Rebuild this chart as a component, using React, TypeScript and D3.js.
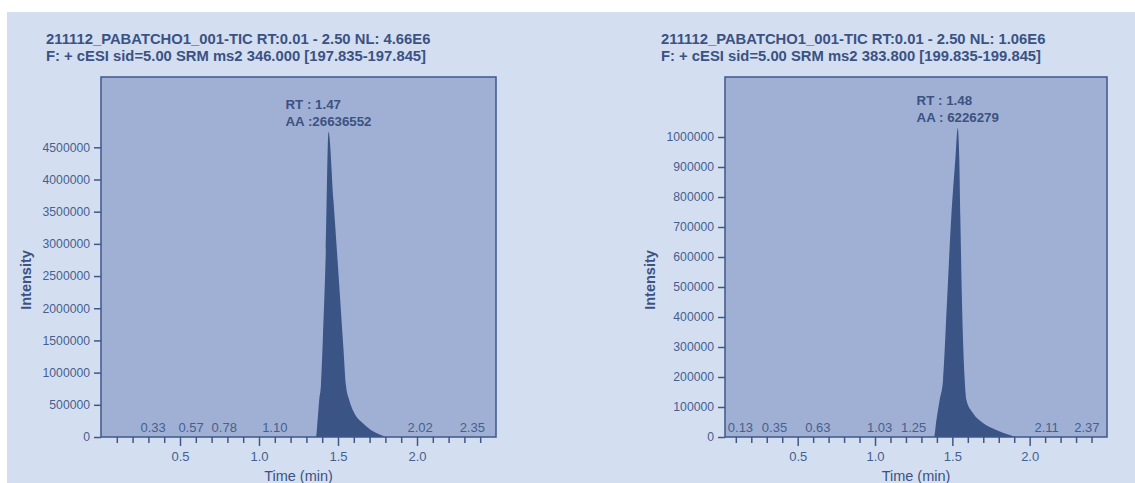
import React from 'react'
import * as d3 from 'd3'

const W = 1135
const H = 483

// titles
const titlesA = [
  '211112_PABATCHO1_001-TIC RT:0.01 - 2.50 NL: 4.66E6',
  'F: + cESI sid=5.00 SRM ms2 346.000 [197.835-197.845]'
]
const titlesB = [
  '211112_PABATCHO1_001-TIC RT:0.01 - 2.50 NL: 1.06E6',
  'F: + cESI sid=5.00 SRM ms2 383.800 [199.835-199.845]'
]

// left trace (time in min, intensity)
const timesA = [0.01, 1.36, 1.371, 1.381, 1.392, 1.404, 1.423, 1.44, 1.471, 1.514, 1.535, 1.55, 1.571, 1.603, 1.656, 1.708, 1.772, 1.804, 2.5]
const intensA = [0, 0, 264000, 575000, 807000, 1510000, 2900000, 4740000, 3680000, 2130000, 1350000, 807000, 575000, 373000, 217000, 109000, 31000, 0, 0]

// right trace
const timesB = [0.01, 1.381, 1.397, 1.418, 1.44, 1.466, 1.492, 1.519, 1.535, 1.545, 1.552, 1.562, 1.58, 1.591, 1.633, 1.698, 1.784, 1.87, 1.913, 2.5]
const intensB = [0, 0, 57000, 123000, 190000, 457000, 723000, 923000, 1030000, 923000, 723000, 457000, 190000, 123000, 80000, 46700, 23300, 6700, 0, 0]

// small peak labels
const labelTimesA = [0.33, 0.57, 0.78, 1.10, 2.02, 2.35]
const labelTimesB = [0.13, 0.35, 0.63, 1.03, 1.25, 2.11, 2.37]

// apex annotations
const annotA = ['RT : 1.47', 'AA :26636552']
const annotB = ['RT : 1.48', 'AA : 6226279']

// axes
const yTicksA = [0, 500000, 1000000, 1500000, 2000000, 2500000, 3000000, 3500000, 4000000, 4500000]
const yTicksB = [0, 100000, 200000, 300000, 400000, 500000, 600000, 700000, 800000, 900000, 1000000]
const yMaxA = 5592000
const yMaxB = 1200000
const xMajor = [0.5, 1.0, 1.5, 2.0]
const xMinor = [0.1, 0.2, 0.3, 0.4, 0.6, 0.7, 0.8, 0.9, 1.1, 1.2, 1.3, 1.4, 1.6, 1.7, 1.8, 1.9, 2.1, 2.2, 2.3, 2.4]

const FONT = '"Liberation Sans", Arial, sans-serif'
const C = {
  panel: '#d3dff1',
  plot: '#a0b0d4',
  trace: '#3a5486',
  stroke: '#3f5889',
  text: '#3b5283',
  tick: '#45608f'
}

const panels = [
  { titles: titlesA, times: timesA, intens: intensA, labels: labelTimesA, annot: annotA, yTicks: yTicksA, yMax: yMaxA, xDomain: [0, 2.5], left: 101, right: 496, titleX: 46 },
  { titles: titlesB, times: timesB, intens: intensB, labels: labelTimesB, annot: annotB, yTicks: yTicksB, yMax: yMaxB, xDomain: [0.03, 2.5], left: 725, right: 1107, titleX: 661 }
]

export default function App() {
  const ref = React.useRef<SVGSVGElement>(null)

  React.useEffect(() => {
    const svg = d3.select(ref.current)
    svg.selectAll('*').remove()
    const top = 77
    const bottom = 437

    svg.append('rect').attr('width', W).attr('height', H).attr('fill', '#fff')
    svg.append('rect').attr('x', 7).attr('y', 12).attr('width', W - 7).attr('height', H - 12).attr('fill', C.panel)

    panels.forEach(p => {
      const g = svg.append('g').attr('font-family', FONT)
      const x = d3.scaleLinear().domain(p.xDomain).range([p.left, p.right])
      const y = d3.scaleLinear().domain([0, p.yMax]).range([bottom, top])

      // title
      p.titles.forEach((t, i) => {
        g.append('text')
          .attr('x', p.titleX)
          .attr('y', 44 + i * 17)
          .attr('font-size', 14.8)
          .attr('font-weight', 'bold')
          .attr('fill', C.text)
          .text(t)
      })

      // plot area
      g.append('rect')
        .attr('x', p.left)
        .attr('y', top)
        .attr('width', p.right - p.left)
        .attr('height', bottom - top)
        .attr('fill', C.plot)

      // trace
      const pts = p.times.map((t, i) => [t, p.intens[i]] as [number, number])
      const area = d3.area<[number, number]>()
        .x(d => x(d[0]))
        .y0(y(0))
        .y1(d => y(d[1]))
        .curve(d3.curveMonotoneX)
      g.append('path').attr('d', area(pts)).attr('fill', C.trace)

      g.append('rect')
        .attr('x', p.left)
        .attr('y', top)
        .attr('width', p.right - p.left)
        .attr('height', bottom - top)
        .attr('fill', 'none')
        .attr('stroke', C.stroke)
        .attr('stroke-width', 1.5)

      // small peak labels
      p.labels.forEach(t => {
        g.append('text')
          .attr('x', x(t))
          .attr('y', bottom - 5)
          .attr('text-anchor', 'middle')
          .attr('font-size', 13)
          .attr('fill', C.tick)
          .text(t.toFixed(2))
      })

      // apex annotation
      const iMax = d3.maxIndex(p.intens)
      const ax = x(p.times[iMax])
      const ay = y(p.intens[iMax])
      const ag = g.append('g')
      p.annot.forEach((t, i) => {
        ag.append('text')
          .attr('x', 0)
          .attr('y', ay - 6 - (p.annot.length - 1 - i) * 17)
          .attr('font-size', 13.3)
          .attr('font-weight', 'bold')
          .attr('fill', C.text)
          .text(t)
      })
      const wMax = d3.max(ag.selectAll<SVGTextElement, unknown>('text').nodes(), n => n.getComputedTextLength()) || 0
      ag.attr('transform', `translate(${ax - wMax / 2},0)`)

      // y axis
      const yAxis = g.append('g')
        .attr('transform', `translate(${p.left},0)`)
        .call(d3.axisLeft(y).tickValues(p.yTicks).tickSize(7).tickPadding(4).tickFormat(d3.format('d')))
      yAxis.select('.domain').remove()
      yAxis.selectAll('line').attr('stroke', C.stroke).attr('stroke-width', 1.5)
      yAxis.selectAll('text').attr('fill', C.tick).attr('font-size', 12.2).attr('font-family', FONT)

      // x axis
      const xMinorAxis = g.append('g')
        .attr('transform', `translate(0,${bottom})`)
        .call(d3.axisBottom(x).tickValues(xMinor).tickSize(6).tickFormat(() => ''))
      xMinorAxis.select('.domain').remove()
      xMinorAxis.selectAll('line').attr('stroke', C.stroke).attr('stroke-width', 1.5)

      const xAxis = g.append('g')
        .attr('transform', `translate(0,${bottom})`)
        .call(d3.axisBottom(x).tickValues(xMajor).tickSize(9).tickPadding(6).tickFormat(d3.format('.1f')))
      xAxis.select('.domain').remove()
      xAxis.selectAll('line').attr('stroke', C.stroke).attr('stroke-width', 1.5)
      xAxis.selectAll('text').attr('fill', C.tick).attr('font-size', 13).attr('font-family', FONT)

      // axis titles
      g.append('text')
        .attr('x', (p.left + p.right) / 2)
        .attr('y', 481)
        .attr('text-anchor', 'middle')
        .attr('font-size', 14.5)
        .attr('fill', C.text)
        .text('Time (min)')

      g.append('text')
        .attr('transform', `translate(${p.left - 70},280) rotate(-90)`)
        .attr('text-anchor', 'middle')
        .attr('font-size', 14.5)
        .attr('font-weight', 'bold')
        .attr('fill', C.text)
        .text('Intensity')
    })
  }, [])

  return <svg ref={ref} width={W} height={H} style={{ position: 'absolute', left: 0, top: 0 }} />
}
